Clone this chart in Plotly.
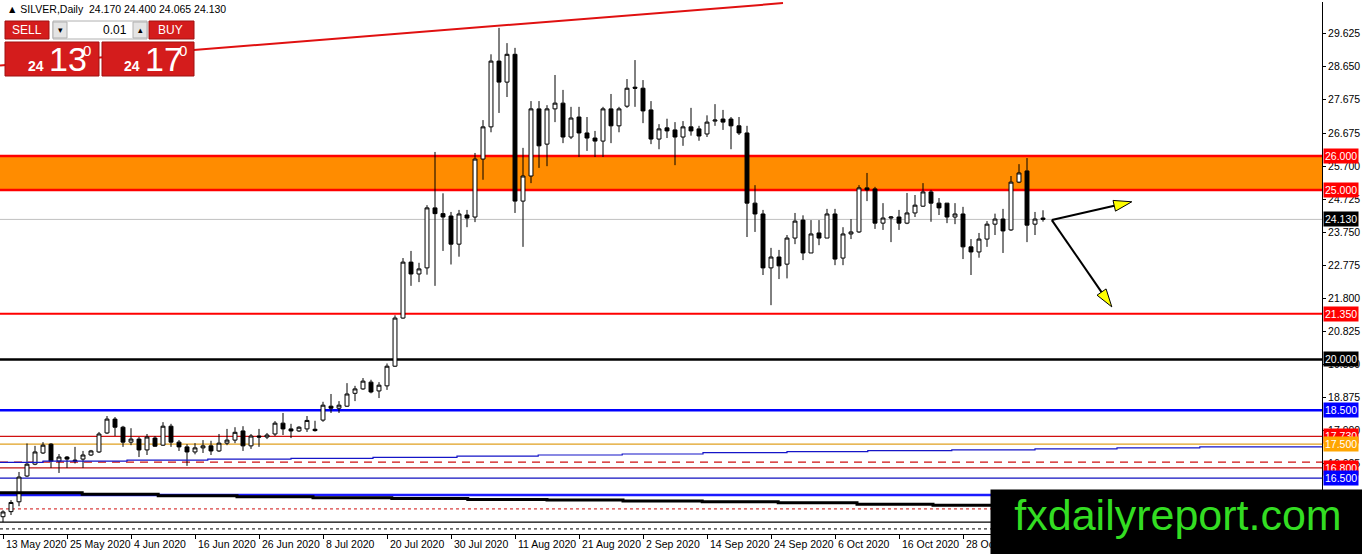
import plotly.graph_objects as go

# ---- daily SILVER bars (13 May 2020 .. 11 Nov 2020) ----
opens = [15.36, 15.51, 15.80, 16.56, 16.91, 17.24, 17.50, 17.00, 17.12, 17.03,
         17.06, 17.18, 17.27, 17.83, 18.24, 18.00, 17.56, 17.65, 17.33, 17.68,
         17.47, 18.03, 17.56, 17.42, 17.27, 17.39, 17.45, 17.30, 17.53, 17.62,
         17.89, 17.45, 17.74, 17.71, 17.80, 18.12, 17.95, 17.89, 17.95, 17.94,
         18.21, 18.62, 18.56, 18.62, 19.00, 19.13, 19.33, 19.07, 19.22, 19.80,
         21.22, 22.87, 22.52, 22.70, 24.47, 24.30, 24.23, 23.40, 24.26, 24.20,
         25.91, 26.86, 28.80, 28.18, 29.00, 24.67, 25.41, 27.39, 26.35, 27.39,
         27.56, 26.56, 27.15, 26.68, 26.53, 26.44, 27.39, 26.89, 27.47, 28.03,
         28.00, 27.36, 26.50, 26.83, 26.77, 26.56, 26.86, 26.80, 26.65, 27.03,
         27.09, 27.09, 26.89, 26.68, 24.61, 24.29, 22.70, 23.02, 22.81, 23.58,
         24.11, 23.14, 23.73, 23.58, 24.29, 22.99, 23.70, 23.76, 25.06, 25.03,
         24.02, 24.17, 24.20, 24.02, 24.32, 24.52, 24.94, 24.61, 24.61, 24.20,
         24.29, 23.32, 23.17, 23.55, 23.99, 24.14, 23.82, 25.23, 25.56, 23.99,
         24.17]
highs = [15.55, 15.85, 16.68, 17.52, 17.45, 17.56, 17.53, 17.21, 17.15, 17.42,
         17.30, 17.33, 17.86, 18.33, 18.30, 18.04, 17.97, 17.71, 17.80, 17.74,
         18.15, 18.10, 17.62, 17.50, 17.53, 17.62, 17.60, 17.80, 17.95, 18.00,
         18.03, 17.80, 17.95, 17.83, 18.18, 18.42, 18.10, 18.03, 18.33, 18.19,
         18.75, 18.98, 18.77, 19.30, 19.22, 19.45, 19.40, 19.33, 19.88, 21.30,
         22.99, 23.20, 22.85, 24.55, 26.12, 24.90, 24.35, 24.41, 24.41, 26.09,
         27.06, 29.00, 29.78, 29.33, 29.19, 26.24, 27.62, 27.62, 27.50, 28.39,
         27.95, 27.45, 27.45, 27.15, 26.74, 27.45, 27.83, 27.45, 28.27, 28.83,
         28.24, 27.62, 26.94, 27.10, 27.00, 27.03, 27.42, 26.89, 27.20, 27.53,
         27.36, 27.15, 27.15, 26.89, 25.14, 24.41, 23.29, 23.23, 23.67, 24.32,
         24.25, 24.11, 24.11, 24.44, 24.44, 23.90, 24.14, 25.14, 25.50, 25.09,
         24.61, 24.23, 24.41, 24.91, 24.85, 25.20, 25.00, 24.76, 24.61, 24.61,
         24.50, 23.55, 23.73, 24.08, 24.30, 24.44, 25.41, 25.76, 25.94, 24.35,
         24.40]
lows = [15.20, 15.41, 15.67, 16.53, 16.88, 17.21, 16.80, 16.65, 16.80, 16.93,
        16.80, 17.15, 17.24, 17.80, 17.74, 17.42, 17.47, 17.12, 17.18, 17.42,
        17.45, 17.42, 17.30, 16.86, 17.20, 17.24, 17.18, 17.27, 17.47, 17.53,
        17.30, 17.36, 17.42, 17.65, 17.74, 17.77, 17.68, 17.86, 17.86, 17.87,
        18.16, 18.42, 18.42, 18.60, 18.77, 19.10, 19.00, 18.86, 19.10, 19.78,
        21.20, 22.17, 22.28, 22.50, 22.17, 23.20, 22.80, 23.03, 23.90, 24.05,
        25.30, 26.70, 27.27, 27.74, 24.32, 23.32, 25.20, 25.65, 25.70, 27.00,
        26.38, 26.50, 25.97, 26.15, 25.97, 25.97, 26.38, 26.70, 27.42, 27.45,
        26.97, 26.35, 26.20, 26.53, 25.73, 26.30, 26.60, 26.45, 26.56, 26.89,
        26.77, 26.20, 26.62, 23.61, 23.76, 22.49, 21.60, 22.37, 22.39, 23.40,
        22.93, 23.14, 23.37, 23.58, 22.78, 22.78, 23.55, 23.73, 24.67, 23.85,
        23.82, 23.46, 23.82, 23.99, 24.20, 24.50, 24.06, 24.26, 24.02, 23.99,
        22.96, 22.49, 23.00, 23.32, 23.67, 23.14, 23.79, 25.20, 23.46, 23.67,
        24.065]
closes = [15.50, 15.78, 16.53, 16.91, 17.27, 17.47, 17.00, 17.12, 17.06, 17.01,
          17.18, 17.30, 17.80, 18.24, 18.00, 17.56, 17.65, 17.33, 17.71, 17.44,
          18.03, 17.56, 17.42, 17.27, 17.39, 17.45, 17.30, 17.53, 17.62, 17.85,
          17.45, 17.74, 17.71, 17.77, 18.12, 17.95, 17.89, 18.00, 18.20, 17.90,
          18.65, 18.56, 18.65, 18.98, 19.13, 19.36, 19.04, 19.24, 19.80, 21.22,
          22.87, 22.52, 22.67, 24.47, 24.30, 24.20, 23.40, 24.29, 24.17, 25.91,
          26.86, 28.80, 28.18, 29.00, 24.67, 25.41, 27.39, 26.30, 27.39, 27.56,
          26.56, 27.12, 26.68, 26.53, 26.44, 27.39, 26.89, 27.39, 28.00, 28.00,
          27.33, 26.50, 26.80, 26.74, 26.56, 26.86, 26.74, 26.59, 27.00, 27.06,
          27.00, 26.89, 26.68, 24.61, 24.29, 22.70, 23.02, 22.76, 23.58, 24.08,
          23.14, 23.70, 23.58, 24.29, 22.96, 23.70, 23.76, 25.06, 25.00, 24.02,
          24.17, 24.20, 24.02, 24.32, 24.55, 24.94, 24.61, 24.47, 24.20, 24.29,
          23.32, 23.17, 23.55, 23.99, 24.14, 23.79, 25.23, 25.50, 23.96, 24.14,
          24.13]

date_ticks = ["13 May 2020", "25 May 2020", "4 Jun 2020", "16 Jun 2020",
              "26 Jun 2020", "8 Jul 2020", "20 Jul 2020", "30 Jul 2020",
              "11 Aug 2020", "21 Aug 2020", "2 Sep 2020", "14 Sep 2020",
              "24 Sep 2020", "6 Oct 2020", "16 Oct 2020", "28 Oct 2020"]
price_ticks = [29.625, 28.650, 27.675, 26.675, 25.700, 24.725, 23.750, 22.775,
               21.800, 20.825, 19.850, 18.875, 17.900, 16.925]

# horizontal levels drawn on the chart
zone_low, zone_high = 25.0, 26.0
level_prices = [21.35, 20.0, 18.5, 17.73, 17.5, 16.97, 16.8, 16.5, 16.0, 15.59, 15.2, 15.0]
bid_price = 24.13

# right-hand price labels
label_prices = [26.0, 25.0, 24.13, 21.35, 20.0, 18.5, 17.73, 17.5, 16.8, 16.5]

# indicator step lines (bar index where the value changes, value)
blue_ma_x = [-0.375, 5, 15.5, 25.6, 36, 46.25, 56.75, 66.9, 77.4, 87.5, 98, 108.1, 118.6, 129, 139.25, 149.6, 164.9]
blue_ma_y = [16.965, 17.00, 17.03, 17.06, 17.08, 17.11, 17.15, 17.18, 17.21, 17.25, 17.28, 17.31, 17.33, 17.36, 17.39, 17.42, 17.42]
black_ma_x = [-0.375, 9.9, 19.4, 29.25, 38.75, 48.6, 58.1, 68, 77.5, 87.4, 96.9, 106.75, 116.25, 125.9, 164.9]
black_ma_y = [16.07, 16.02, 15.98, 15.95, 15.92, 15.90, 15.87, 15.85, 15.82, 15.80, 15.77, 15.73, 15.70, 15.68, 15.68]

# trend line and the two scenario arrows (bar index, price)
trend_x = [-0.375, 97.5]
trend_y = [28.67, 30.51]
arrow_start = (131.1, 24.11)
arrow_ends = [(141.1, 24.65), (138.6, 21.55)]

# ---- geometry ---------------------------------------------------------------
W, H = 1362, 554
ML, MR, MT, MB = 0, 40, 2, 20
PW, PH = W - ML - MR, H - MT - MB
XR = [-0.375, 164.875]
YR = [14.85, 30.543]


def px(x):
    return (x - ML) / PW


def py(y):
    return (H - MB - y) / PH


def to_pix(x, y):
    return (ML + (x - XR[0]) / (XR[1] - XR[0]) * PW,
            MT + (YR[1] - y) / (YR[1] - YR[0]) * PH)


bars = list(range(len(opens)))

fig = go.Figure()
fig.add_trace(go.Scatter(x=blue_ma_x, y=blue_ma_y, mode="lines", line_shape="hv",
                         line=dict(color="#1515c8", width=1.2), hoverinfo="skip"))
fig.add_trace(go.Scatter(x=black_ma_x, y=black_ma_y, mode="lines", line_shape="hv",
                         line=dict(color="black", width=3), hoverinfo="skip"))
fig.add_trace(go.Scatter(x=trend_x, y=trend_y, mode="lines",
                         line=dict(color="#e01010", width=2), hoverinfo="skip"))
fig.add_trace(go.Candlestick(
    x=bars, open=opens, high=highs, low=lows, close=closes,
    increasing=dict(line=dict(color="black", width=1), fillcolor="white"),
    decreasing=dict(line=dict(color="black", width=1), fillcolor="black"),
    whiskerwidth=0,
))

shapes = []
# orange resistance zone
shapes.append(dict(type="rect", xref="paper", yref="y", x0=0, x1=1, y0=zone_low, y1=zone_high,
                   fillcolor="#ff8c00", line_width=0, layer="below"))
for p in (zone_low, zone_high):
    shapes.append(dict(type="line", xref="paper", yref="y", x0=0, x1=1, y0=p, y1=p,
                       line=dict(color="#ff0000", width=2.5), layer="below"))
shapes.append(dict(type="line", xref="paper", yref="y", x0=0, x1=1, y0=bid_price, y1=bid_price,
                   line=dict(color="#c0c0c0", width=1), layer="below"))

level_styles = [
    ("#ff0000", 2, "solid"), ("black", 2.5, "solid"), ("#0000ff", 2.5, "solid"),
    ("#d01010", 1.2, "solid"), ("#e0a020", 1.2, "solid"), ("#d01010", 1.2, "8px,6px"),
    ("#c01010", 1.2, "solid"), ("#1010c0", 1.2, "solid"), ("#1a1aff", 2.5, "solid"),
    ("#d01010", 1, "3px,3px"), ("black", 1.2, "solid"), ("black", 1, "3px,3px"),
]
for p, (c, w, d) in zip(level_prices, level_styles):
    shapes.append(dict(type="line", xref="paper", yref="y", x0=0, x1=1, y0=p, y1=p,
                       line=dict(color=c, width=w, dash=d), layer="below"))

# arrows with yellow heads
for (ex, ey) in arrow_ends:
    sx, sy = to_pix(*arrow_start)
    tx, ty = to_pix(ex, ey)
    dx, dy = tx - sx, ty - sy
    ln = (dx * dx + dy * dy) ** 0.5
    ux, uy = dx / ln, dy / ln
    bx, by = tx - 18 * ux, ty - 18 * uy
    shapes.append(dict(type="line", xref="paper", yref="paper",
                       x0=px(sx), y0=py(sy), x1=px(bx), y1=py(by),
                       line=dict(color="black", width=2)))
    pts = [(tx, ty), (bx - 5.5 * uy, by + 5.5 * ux), (bx + 5.5 * uy, by - 5.5 * ux)]
    path = "M " + " L ".join(f"{px(a):.5f},{py(b):.5f}" for a, b in pts) + " Z"
    shapes.append(dict(type="path", xref="paper", yref="paper", path=path,
                       fillcolor="#ffff00", line=dict(color="black", width=1)))

# one-click trading panel
RED = "#d41c1c"
panel = [
    (5, 21, 49, 39, RED), (149, 21, 194, 39, RED),
    (5, 42, 99, 76, RED), (102, 42, 194, 76, RED),
    (53, 21, 147, 39, "white"),
    (53, 22, 67, 38, "#e4e4e4"), (133, 22, 147, 38, "#e4e4e4"),
]
for x0, y0, x1, y1, c in panel:
    shapes.append(dict(type="rect", xref="paper", yref="paper",
                       x0=px(x0), x1=px(x1), y0=py(y0), y1=py(y1),
                       fillcolor=c, line=dict(color="#a01010" if c == RED else "#b0b0b0", width=1)))

annotations = []
txt = dict(xref="paper", yref="paper", showarrow=False, xanchor="center", yanchor="middle")
annotations.append(dict(txt, x=px(5), y=py(9), xanchor="left",
                        text="▲ SILVER,Daily\u00a0\u00a024.170 24.400 24.065 24.130",
                        font=dict(size=10.5, color="black")))
annotations.append(dict(txt, x=px(27), y=py(30), text="SELL", font=dict(size=12, color="white")))
annotations.append(dict(txt, x=px(171), y=py(30), text="BUY", font=dict(size=12, color="white")))
annotations.append(dict(txt, x=px(129), y=py(30), xanchor="right", text="0.01", font=dict(size=12, color="black")))
annotations.append(dict(txt, x=px(60), y=py(30), text="▾", font=dict(size=9, color="black")))
annotations.append(dict(txt, x=px(140), y=py(30), text="▴", font=dict(size=9, color="black")))
for bx0, big in ((26, "13"), (122, "17")):
    annotations.append(dict(txt, x=px(bx0), y=py(66), xanchor="left",
                            text="<b>24</b>", font=dict(size=14, color="white")))
    annotations.append(dict(txt, x=px(bx0 + 21), y=py(59), xanchor="left",
                            text=big, font=dict(size=34, color="white")))
    annotations.append(dict(txt, x=px(bx0 + 55), y=py(50), xanchor="left",
                            text="0", font=dict(size=15, color="white")))

# level labels on the price scale
label_bg = ["#ff0000", "#ff0000", "black", "#ff0000", "black", "#0000ff",
            "#ff0000", "#ffa500", "#ff0000", "#0000ff"]
for p, bg in zip(label_prices, label_bg):
    annotations.append(dict(x=1, xref="paper", y=p, yref="y", xanchor="left", yanchor="middle",
                            xshift=1, showarrow=False, text=f"{p:.3f}", bgcolor=bg, borderpad=1,
                            font=dict(size=10.5, color="white")))

# date labels (left aligned at their tick)
for k, lab in enumerate(date_ticks):
    annotations.append(dict(x=bars[k * 8], xref="x", y=0, yref="paper", xanchor="left",
                            yanchor="middle", yshift=-10, xshift=1, showarrow=False,
                            text=lab, font=dict(size=10.5, color="black")))

# watermark
annotations.append(dict(xref="paper", yref="paper", x=px(990), y=py(489), xanchor="left",
                        yanchor="top", width=372, height=65, bgcolor="black", showarrow=False,
                        text="fxdailyreport.com", valign="top", borderpad=1,
                        font=dict(size=43, color="#33dd22", family="Liberation Sans")))

fig.update_layout(
    width=W, height=H,
    margin=dict(l=ML, r=MR, t=MT, b=MB),
    paper_bgcolor="white", plot_bgcolor="white",
    showlegend=False,
    font=dict(family="Liberation Sans", color="black"),
    shapes=shapes, annotations=annotations,
)
fig.update_xaxes(range=XR, rangeslider_visible=False, showgrid=False, zeroline=False,
                 tickvals=[bars[k * 8] for k in range(len(date_ticks))], showticklabels=False,
                 ticks="outside", ticklen=4, tickcolor="black",
                 showline=True, linecolor="black", linewidth=1)
fig.update_yaxes(range=YR, side="right", showgrid=False, zeroline=False,
                 tickvals=price_ticks, ticktext=[f"{v:.3f}" for v in price_ticks],
                 ticks="outside", ticklen=3, tickcolor="black", tickfont=dict(size=10.5),
                 showline=True, linecolor="black", linewidth=1)

# the page body has a default 8px margin; drop it so the chart sits at the window corner
fig.write_html("out.html", config={"displayModeBar": False},
               post_script="document.body.style.margin='0px';")
